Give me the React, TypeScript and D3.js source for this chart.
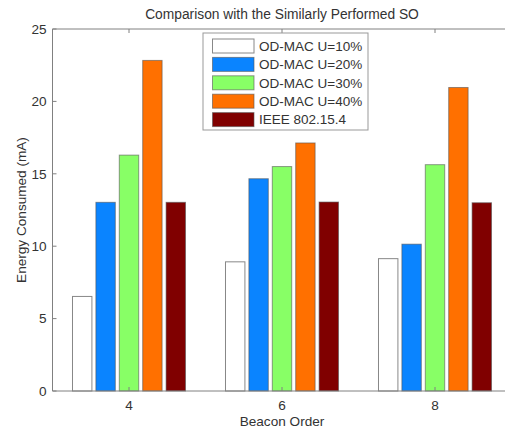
import React from "react";
import * as d3 from "d3";

const categories = [4, 6, 8];
const seriesNames = ["OD-MAC U=10%", "OD-MAC U=20%", "OD-MAC U=30%", "OD-MAC U=40%", "IEEE 802.15.4"];
const u10 = [6.53, 8.92, 9.14];
const u20 = [13.03, 14.66, 10.14];
const u30 = [16.29, 15.5, 15.63];
const u40 = [22.83, 17.13, 20.96];
const ieee = [13.03, 13.05, 13.0];
const seriesValues = [u10, u20, u30, u40, ieee];
const seriesColors = ["#ffffff", "#0a84ff", "#88ff66", "#ff7000", "#800000"];
const yTicks = [0, 5, 10, 15, 20, 25];

const W = 505;
const H = 431;
const left = 52.5;
const right = 511.5;
const top = 29;
const bottom = 391;
const font = "'Liberation Sans', Arial, Helvetica, sans-serif";

export default function App() {
  const x = d3.scaleLinear().domain([3, 9]).range([left, right]);
  const y = d3.scaleLinear().domain([0, 25]).range([bottom, top]);
  const inner = d3
    .scaleBand<string>()
    .domain(seriesNames)
    .range([-58.5, 58.5])
    .paddingInner(0.17)
    .paddingOuter(0.085);

  const axisColor = "#808080";
  const textColor = "#333";

  return (
    <svg
      width={W}
      height={H}
      style={{ position: "absolute", left: 0, top: 0, background: "#fff" }}
      fontFamily={font}
    >
      <rect x={0} y={0} width={W} height={H} fill="#fff" />
      <text x={282} y={19} textAnchor="middle" fontSize={13.8} fill={textColor}>
        Comparison with the Similarly Performed SO
      </text>

      {/* bars */}
      {seriesValues.map((vals, si) =>
        vals.map((v, ci) => (
          <rect
            key={`${si}-${ci}`}
            x={x(categories[ci]) + (inner(seriesNames[si]) as number)}
            y={y(v)}
            width={inner.bandwidth()}
            height={y(0) - y(v)}
            fill={seriesColors[si]}
            stroke={si === 0 ? "#888" : "#555"}
            strokeWidth={1}
            strokeOpacity={si === 0 ? 1 : 0.6}
          />
        ))
      )}

      {/* axes */}
      <line x1={left} x2={W} y1={top} y2={top} stroke={axisColor} />
      <line x1={left} x2={W} y1={bottom} y2={bottom} stroke={axisColor} />
      <line x1={left} x2={left} y1={top} y2={bottom} stroke={axisColor} />
      {yTicks.map((t) => (
        <g key={t}>
          <line x1={left} x2={left + 4} y1={y(t)} y2={y(t)} stroke={axisColor} />
          <text
            x={left - 6}
            y={y(t)}
            dy="0.35em"
            textAnchor="end"
            fontSize={13.6}
            fill={textColor}
          >
            {t}
          </text>
        </g>
      ))}
      {categories.map((c) => (
        <g key={c}>
          <line x1={x(c)} x2={x(c)} y1={bottom} y2={bottom - 4} stroke={axisColor} />
          <line x1={x(c)} x2={x(c)} y1={top} y2={top + 4} stroke={axisColor} />
          <text x={x(c)} y={410} textAnchor="middle" fontSize={13.6} fill={textColor}>
            {c}
          </text>
        </g>
      ))}
      <text x={282} y={426} textAnchor="middle" fontSize={13.6} fill={textColor}>
        Beacon Order
      </text>
      <text
        transform={`translate(26,${(top + bottom) / 2}) rotate(-90)`}
        textAnchor="middle"
        fontSize={13.6}
        fill={textColor}
      >
        Energy Consumed (mA)
      </text>

      {/* legend */}
      <rect x={203} y={33} width={165} height={97} fill="#fff" stroke="#999" />
      {seriesNames.map((n, i) => {
        const cy = 46 + i * 18.4;
        return (
          <g key={n}>
            <rect
              x={212.5}
              y={cy - 7}
              width={41.5}
              height={14}
              fill={seriesColors[i]}
              stroke={i === 0 ? "#888" : "#555"}
              strokeOpacity={i === 0 ? 1 : 0.6}
            />
            <text x={259} y={cy} dy="0.36em" fontSize={13.5} fill={textColor}>
              {n}
            </text>
          </g>
        );
      })}
    </svg>
  );
}
